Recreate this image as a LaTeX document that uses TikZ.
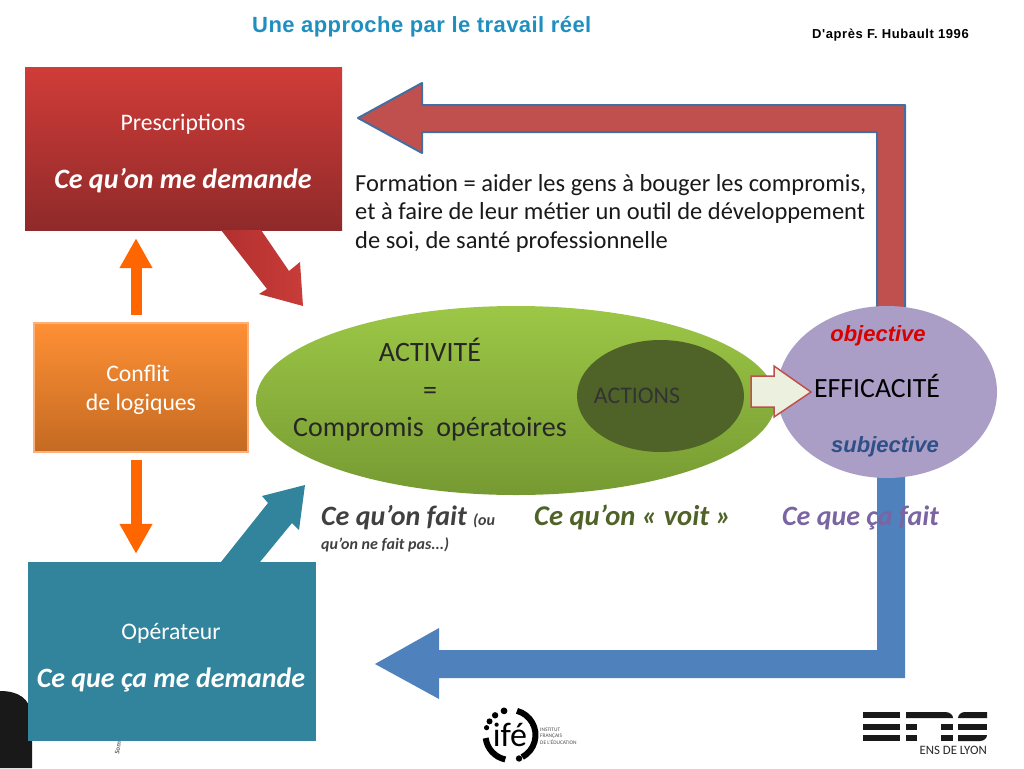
\documentclass[tikz,border=0pt]{standalone}
\usepackage{fontspec}
\setmainfont{Carlito}
\newfontfamily\arialf{Liberation Sans}
\newfontfamily\arialspaced[LetterSpace=2]{Liberation Sans}
\newfontfamily\arialspacedb[LetterSpace=4.5]{Liberation Sans}
\usetikzlibrary{arrows.meta,shapes.geometric}
\definecolor{titleblue}{HTML}{1F8FC0}
\definecolor{redbar}{HTML}{C0504D}
\definecolor{blueline}{HTML}{4F81BD}
\definecolor{teal}{HTML}{31849B}
\definecolor{orangeA}{HTML}{FF6600}
\definecolor{violetE}{HTML}{AB9EC6}
\definecolor{greenD}{HTML}{4F6228}
\definecolor{violetT}{HTML}{7A65A2}
\definecolor{presctop}{HTML}{D03C38}
\definecolor{prescbot}{HTML}{8F2A2A}
\definecolor{conftop}{HTML}{FF9035}
\definecolor{confbot}{HTML}{C46A22}
\definecolor{confline}{HTML}{FDB07A}
\definecolor{greentop}{HTML}{9CC746}
\definecolor{greenbot}{HTML}{769A32}
\definecolor{smallfill}{HTML}{EBF1DE}
\definecolor{diagA}{HTML}{B23030}
\definecolor{diagB}{HTML}{C83C38}
\definecolor{subjblue}{HTML}{2F4F87}
\tikzset{
  x=1pt,y=-1pt,
  boxtext/.style={text=white,font=\fontsize{23.7}{26}\selectfont,anchor=base},
  boxem/.style={text=white,font=\fontsize{28}{30}\selectfont\bfseries\itshape,anchor=base},
  orangearrow/.style={draw=orangeA,line width=11pt,shorten <=7pt,shorten >=8pt,
    -{Triangle[length=30pt,width=31pt]}},
  bodytext/.style={text=black!90,font=\fontsize{24.5}{28}\selectfont,anchor=base west},
  centertext/.style={text=black!85,font=\fontsize{28}{30}\selectfont,anchor=base},
  caption/.style={font=\fontsize{28}{30}\selectfont\bfseries\itshape,anchor=base west},
  sidetext/.style={font=\arialf\fontsize{22}{24}\selectfont\bfseries\itshape},
  ensbar/.style={fill=black!90,draw=none},
}
\begin{document}
\begin{tikzpicture}
\useasboundingbox (0,0) rectangle (1024,768);
% dark corner
\fill[black!90] (0,768) -- (0,691) .. controls (18,691) and (30,698) .. (32,716) -- (32,768) -- cycle;
% long arrows
\draw[fill=redbar,draw=blueline!85!black,line width=2pt,line join=round]
  (358,118) -- (422,83) -- (422,105) -- (905,105) -- (905,320) -- (877,320) -- (877,132) -- (422,132) -- (422,153) -- cycle;
\fill[blueline] (375,664) -- (439,628) -- (439,650) -- (877,650) -- (877,470) -- (905,470) -- (905,678) -- (439,678) -- (439,699) -- cycle;
% boxes
\node[rectangle,minimum width=317pt,minimum height=163pt,inner sep=0,top color=presctop,bottom color=prescbot] (presc) at (183.5,148.5) {};
\node[rectangle,draw=confline,line width=2pt,minimum width=214pt,minimum height=129pt,inner sep=0,top color=conftop,bottom color=confbot] (conflit) at (140.5,387) {};
\node[rectangle,minimum width=288pt,minimum height=179pt,inner sep=0,fill=teal] (oper) at (172,651.5) {};
% ellipses
\node[ellipse,minimum width=520pt,minimum height=189pt,inner sep=0,top color=greentop,bottom color=greenbot] (act) at (516,400.5) {};
\node[ellipse,minimum width=167pt,minimum height=112pt,inner sep=0,fill=greenD] (actions) at (660.5,396) {};
\node[ellipse,minimum width=220pt,minimum height=172pt,inner sep=0,fill=violetE] (eff) at (887,392) {};
% diagonal arrows
\shade[left color=diagA,right color=diagB]
  (221,230) -- (261,230) -- (289,271) -- (300,262) -- (303,306) -- (259,294) -- (267,289) -- cycle;
\fill[teal] (221,562) -- (268,503) -- (262,496) -- (305,485) -- (299,530) -- (292,523) -- (260,562) -- cycle;
% orange arrows
\coordinate (ox) at (136,400);
\draw[orangearrow] (ox |- conflit.north) -- (ox |- presc.south);
\draw[orangearrow] (ox |- conflit.south) -- (ox |- oper.north);
% small arrow
\draw[fill=smallfill,draw=redbar,line width=1.5pt,line join=miter]
  (751,376) -- (774,376) -- (774,366) -- (811,392) -- (774,417) -- (774,407) -- (751,407) -- cycle;
% title
\node[anchor=base west,text=titleblue,font=\arialspaced\fontsize{22}{24}\selectfont\bfseries,inner sep=0] (title) at (252,33) {Une approche par le travail réel};
\node[anchor=base west,text=black,font=\arialspacedb\fontsize{13}{15}\selectfont\bfseries,inner sep=0] (ref) at (812,38) {D'après F. Hubault 1996};
% box text
\node[boxtext,inner sep=0] (t1) at (183,130) {Prescriptions};
\node[boxem,inner sep=0] (t2) at (183,188) {Ce qu’on me demande};
\node[boxtext,inner sep=0] (t3) at (138,381) {Conflit};
\node[boxtext,inner sep=0] (t4) at (141,410) {de logiques};
\node[boxtext,inner sep=0] (t5) at (171,639) {Opérateur};
\node[boxem,inner sep=0] (t6) at (171,687) {Ce que ça me demande};
% body
\node[bodytext,inner sep=0] (f1) at (355,191) {Formation = aider les gens à bouger les compromis,};
\node[bodytext,inner sep=0] (f2) at (355,219) {et à faire de leur métier un outil de développement};
\node[bodytext,inner sep=0] (f3) at (355,248) {de soi, de santé professionnelle};
\node[centertext,inner sep=0] (a1) at (430,361) {ACTIVITÉ};
\node[centertext,inner sep=0] (a2) at (430,399) {=};
\node[centertext,inner sep=0] (a3) at (430,436) {Compromis\ \ opératoires};
\node[text=black!80,font=\fontsize{23.8}{26}\selectfont,anchor=base,inner sep=0] (a4) at (637,403) {ACTIONS};
\node[text=black,font=\fontsize{27.8}{30}\selectfont,anchor=base,inner sep=0] (e1) at (877,397) {EFFICACITÉ};
\node[sidetext,text=red!85!black,anchor=base,inner sep=0] (e2) at (878,341) {objective};
\node[sidetext,text=subjblue,anchor=base,inner sep=0] (e3) at (885,452) {subjective};
% captions
\node[caption,text=black!75,inner sep=0] (c1) at (321,525) {Ce qu’on fait};
\node[caption,text=black!75,font=\fontsize{16}{18}\selectfont\bfseries\itshape,inner sep=0] (c2) at (473,525) {(ou};
\node[caption,text=black!75,font=\fontsize{16}{18}\selectfont\bfseries\itshape,inner sep=0] (c3) at (321,549) {qu’on ne fait pas...)};
\node[caption,text=greenD,font=\fontsize{28.6}{30}\selectfont\bfseries\itshape,inner sep=0] (c4) at (534,525) {Ce qu’on « voit »};
\node[caption,text=violetT,inner sep=0] (c5) at (782,525) {Ce que ça fait};
% tiny fragment
\node[rotate=80,text=black!60,font=\fontsize{7}{8}\selectfont\bfseries,inner sep=0] (frag) at (118,748) {Som};
% ife logo
\begin{scope}[shift={(510.5,735)},y=1pt]
  \draw[line width=6pt,black] (75:25) arc[start angle=75,end angle=-62,radius=25];
  \draw[line width=6pt,black] (187:25) arc[start angle=187,end angle=258,radius=25];
  \fill[black] (-70:25) circle[radius=3.2];
  \fill[black] (163:25) circle[radius=2.6];
  \fill[black] (147:25) circle[radius=3];
  \fill[black] (128:25) circle[radius=3.2];
  \fill[black] (105:25) circle[radius=3.4];
\end{scope}
\node[font=\fontsize{34}{34}\selectfont,text=black,inner sep=0] (ifetxt) at (510,735) {ifé};
\node[anchor=west,align=left,font=\fontsize{5.4}{6.5}\selectfont,text=black!70,inner sep=0] (ifesub) at (540,736) {INSTITUT\\FRANÇAIS\\DE L'ÉDUCATION};
% ENS logo
\fill[ensbar] (863,712) rectangle (900,718);
\fill[ensbar] (863,723.5) rectangle (900,729.5);
\fill[ensbar] (863,735) rectangle (900,741);
\fill[ensbar] (906,712) -- (945,712) .. controls (950,712) and (953,715) .. (953,718) -- (906,718) -- cycle;
\fill[ensbar] (906,723.5) rectangle (917,729.5);
\fill[ensbar] (906,735) rectangle (917,741);
\fill[ensbar] (941,723.5) rectangle (953,729.5);
\fill[ensbar] (941,735) rectangle (953,741);
\fill[ensbar] (958,718) .. controls (958,715) and (961,712) .. (965,712) -- (987,712) -- (987,718) -- cycle;
\fill[ensbar] (958,723.5) rectangle (987,729.5);
\fill[ensbar] (958,735) -- (987,735) .. controls (987,738) and (984,741) .. (980,741) -- (958,741) -- cycle;
\node[anchor=base east,font=\fontsize{12.8}{14}\selectfont,text=black!85,inner sep=0] (enstxt) at (987,754) {ENS DE LYON};
\end{tikzpicture}
\end{document}
